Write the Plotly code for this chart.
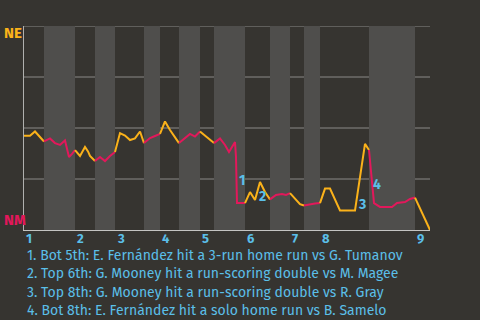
import plotly.graph_objects as go

# ---- data (x = game progress, y = NE win probability %) ----
half_innings = ["T1", "B1", "T2", "B2", "T3", "B3", "T4", "B4", "T5",
                "B5", "T6", "B6", "T7", "B7", "T8", "B8", "T9"]
seg_x = [
    [0, 6, 11, 16, 20],
    [20, 26, 31, 36, 41, 45, 48, 51],
    [51, 56, 61, 64, 66, 71],
    [71, 76, 81, 86, 91],
    [91, 96, 101, 106, 111, 116, 120],
    [120, 126, 131, 136],
    [136, 141, 146, 151, 155],
    [155, 161, 166, 171, 176],
    [176, 181, 186, 190],
    [190, 196, 201, 205, 211, 212, 213, 221],
    [221, 226, 231, 236, 241, 246],
    [246, 252, 258, 262, 266],
    [266, 271, 276, 280],
    [280, 286, 291, 296],
    [296, 301, 306, 316, 331, 341, 345],
    [345, 348, 350, 356, 368, 373, 381, 386, 391],
    [391, 396, 401, 406],
]
seg_y = [
    [46.2, 46.2, 48.3, 45.6, 43.4],
    [43.4, 44.9, 42.6, 41.7, 43.9, 35.8, 37.3, 39.2],
    [39.2, 36.3, 40.7, 38.5, 36.3, 33.8],
    [33.8, 35.8, 33.8, 36.3, 38.2],
    [38.2, 47.5, 46.3, 44.1, 44.9, 48.3, 42.6],
    [42.6, 45.1, 46.1, 47.1],
    [47.1, 53.2, 49.0, 45.6, 42.6],
    [42.6, 45.1, 47.1, 45.8, 48.3],
    [48.3, 46.1, 44.1, 42.6],
    [42.6, 44.9, 41.7, 38.2, 43.1, 35.8, 13.2, 13.2],
    [13.2, 18.6, 14.7, 23.5, 18.6, 15.0],
    [15.0, 17.2, 17.6, 17.2, 18.1],
    [18.1, 15.2, 12.7, 12.0],
    [12.0, 12.7, 13.0, 13.2],
    [13.2, 20.3, 20.3, 9.6, 9.6, 42.2, 39.2],
    [39.2, 21.6, 13.2, 11.3, 11.3, 13.2, 13.7, 15.2, 15.9],
    [15.9, 10.8, 4.9, 0.0],
]
inning_labels = ["1", "2", "3", "4", "5", "6", "7", "8", "9"]
event_ids = ["1", "2", "3", "4"]
event_x = [218, 238, 338, 353]
event_y = [24.5, 16.2, 12.3, 22.5]
event_notes = [
    "1. Bot 5th: E. Fernández hit a 3-run home run vs G. Tumanov",
    "2. Top 6th: G. Mooney hit a run-scoring double vs M. Magee",
    "3. Top 8th: G. Mooney hit a run-scoring double vs R. Gray",
    "4. Bot 8th: E. Fernández hit a solo home run vs B. Samelo",
]
team_top, team_bottom = "NE", "NM"
grid_levels = [25, 50, 75, 100]

# ---- style ----
BG = "#363430"
BAND = "#4f4e4c"
ORANGE = "#fbb21a"
RED = "#e2185b"
BLUE = "#5bbfe8"
GRID = "#8a8987"
FONT = "Fira Sans, Lato, Roboto, sans-serif"

fig = go.Figure()

for i, (xs, ys) in enumerate(zip(seg_x, seg_y)):
    fig.add_trace(go.Scatter(
        x=xs, y=ys, mode="lines",
        line=dict(color=ORANGE if i % 2 == 0 else RED, width=2),
        hoverinfo="skip", showlegend=False))

shapes = []
for i, xs in enumerate(seg_x):
    if i % 2 == 1:
        shapes.append(dict(type="rect", xref="x", yref="y",
                           x0=xs[0], x1=xs[-1], y0=0, y1=100,
                           fillcolor=BAND, line=dict(width=0), layer="below"))
for g in grid_levels:
    shapes.append(dict(type="line", xref="paper", yref="y", x0=0, x1=1,
                       y0=g, y1=g, line=dict(color=GRID, width=1),
                       layer="below"))

annotations = []
for k, lab in enumerate(inning_labels):
    annotations.append(dict(
        x=seg_x[2 * k][0], y=0, xref="x", yref="paper",
        xanchor="left", yanchor="top", yshift=1, showarrow=False,
        text=lab, font=dict(family=FONT, size=13, color=BLUE, weight="bold")))

for lab, ex, ey in zip(event_ids, event_x, event_y):
    annotations.append(dict(
        x=ex, y=ey, xref="x", yref="y", showarrow=False, text=lab,
        font=dict(family=FONT, size=14, color=BLUE, weight="bold")))

for j, note in enumerate(event_notes):
    annotations.append(dict(
        x=0, y=-0.1176 - j * 0.0897, xref="paper", yref="paper",
        xanchor="left", yanchor="middle", xshift=1, yshift=-1.5,
        showarrow=False,
        text=note, font=dict(family=FONT, size=14, color=BLUE)))

annotations.append(dict(x=0, y=1, xref="paper", yref="paper", xanchor="left",
                        yanchor="middle", xshift=-22, yshift=-7, showarrow=False,
                        text=team_top,
                        font=dict(family=FONT, size=15, color=ORANGE, weight="bold")))
annotations.append(dict(x=0, y=0, xref="paper", yref="paper", xanchor="left",
                        yanchor="middle", xshift=-22, yshift=10, showarrow=False,
                        text=team_bottom,
                        font=dict(family=FONT, size=15, color=RED, weight="bold")))

fig.update_layout(
    width=480, height=320,
    margin=dict(l=24, r=50, t=26, b=90),
    paper_bgcolor=BG, plot_bgcolor=BG,
    shapes=shapes, annotations=annotations,
    xaxis=dict(range=[0, 406], showgrid=False, zeroline=False,
               showticklabels=False, showline=True, linecolor="#c4c4c2",
               linewidth=1, fixedrange=True),
    yaxis=dict(range=[0, 100], showgrid=False,
               showticklabels=False,
               zeroline=False, showline=True, linecolor="#b0b0ae",
               linewidth=1, fixedrange=True),
    showlegend=False,
)

fig.write_html("out.html", config=dict(displayModeBar=False))
